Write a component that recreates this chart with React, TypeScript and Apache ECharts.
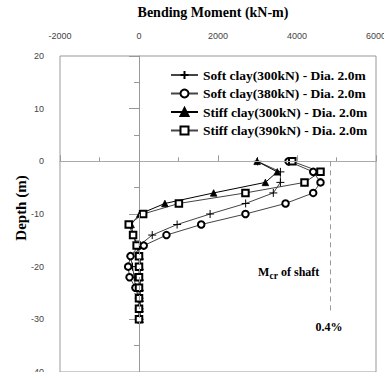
import React, { useEffect, useRef } from "react";
import * as echarts from "echarts";

const depths = [0, -2, -4, -6, -8, -10, -12, -14, -16, -18, -20, -22, -24, -26, -28, -30];
const soft300 = [3000, 3580, 3580, 3400, 2700, 1800, 965, 335, 0, -215, -165, -120, -90, 10, 10, 10];
const soft380 = [3785, 4410, 4595, 4410, 3710, 2695, 1575, 695, 120, -215, -275, -240, -90, 0, 0, 0];
const stiff300 = [2990, 3500, 3200, 1890, 655, 20, -200, -150, -30, 30, 30, 30, 30, 30, 30, 30];
const stiff390 = [3880, 4595, 4190, 2695, 1010, 105, -260, -150, -60, 0, 0, 0, 0, 0, 0, 0];
const seriesNames = [
  "Soft clay(300kN) - Dia. 2.0m",
  "Soft clay(380kN) - Dia. 2.0m",
  "Stiff clay(300kN) - Dia. 2.0m",
  "Stiff clay(390kN) - Dia. 2.0m",
];
const mcrValue = 4830;
const mcrDepthEnd = -29;

const SERIF = "'Liberation Serif', 'Times New Roman', serif";
const SANS = "'Liberation Sans', Arial, sans-serif";

function pairs(xs: number[]) {
  return xs.map((v, i) => [v, depths[i]]);
}

export default function App() {
  const ref = useRef<HTMLDivElement>(null);
  useEffect(() => {
    if (!ref.current) return;
    const chart = echarts.init(ref.current, null, { renderer: "svg" });
    const lineBase = (name: string, data: number[], symbol: string, size: number, lineColor: string) => ({
      name,
      type: "line",
      data: pairs(data),
      symbol,
      symbolSize: size,
      showSymbol: true,
      lineStyle: { color: lineColor, width: 1 },
      itemStyle: { color: "#000", borderColor: "#000", borderWidth: 0.8 },
      z: 3,
    });
    const s0: any = lineBase(seriesNames[0], soft300, "path://M5,0L5,10M0,5L10,5", 8, "#444");
    s0.itemStyle = { color: "#000", borderColor: "#000", borderWidth: 1 };
    s0.markLine = {
      silent: true,
      symbol: "none",
      label: { show: false },
      data: [
        { yAxis: 0, lineStyle: { color: "#aaa", type: "solid", width: 1 } },
        { xAxis: 0, lineStyle: { color: "#999", type: [5, 4], width: 1 } },
        [
          { coord: [mcrValue, 0], lineStyle: { color: "#999", type: [5, 4], width: 1 } },
          { coord: [mcrValue, mcrDepthEnd] },
        ],
      ],
    };
    const s1 = lineBase(seriesNames[1], soft380, "emptyCircle", 6.5, "#444");
    const s2 = lineBase(seriesNames[2], stiff300, "triangle", 6.5, "#000");
    const s3 = lineBase(seriesNames[3], stiff390, "emptyRect", 6.5, "#444");

    const fmt = (v: number) => String(v);

    chart.setOption({
      animation: false,
      grid: {
        left: 60,
        right: 8,
        top: 56,
        bottom: 0,
        containLabel: false,
        outerBoundsMode: "none",
        show: true,
        borderColor: "#999",
        borderWidth: 1,
        backgroundColor: "transparent",
      },
      legend: {
        orient: "vertical",
        left: 170,
        top: 68,
        padding: 0,
        itemWidth: 27,
        itemHeight: 10,
        itemGap: 4.5,
        data: seriesNames,
        textStyle: {
          fontFamily: SERIF,
          fontWeight: "bold",
          fontSize: 13.5,
          color: "#000",
          lineHeight: 14,
        },
      },
      xAxis: {
        type: "value",
        position: "top",
        min: -2000,
        max: 6000,
        interval: 2000,
        axisLine: { show: true, lineStyle: { color: "#999" } },
        axisTick: { show: true, length: 6, lineStyle: { color: "#999" } },
        minorTick: { show: true, splitNumber: 2, length: 4, lineStyle: { color: "#999" } },
        splitLine: { show: false },
        axisLabel: { margin: 16, fontFamily: SANS, fontSize: 9, color: "#444", formatter: fmt },
      },
      yAxis: {
        type: "value",
        min: -40,
        max: 20,
        interval: 10,
        axisLine: { show: true, lineStyle: { color: "#999" } },
        axisTick: { show: true, length: 10, lineStyle: { color: "#999" } },
        minorTick: { show: true, splitNumber: 2, length: 5, lineStyle: { color: "#999" } },
        splitLine: { show: false },
        axisLabel: { margin: 16, fontFamily: SANS, fontSize: 9, color: "#444", formatter: fmt },
      },
      graphic: [
        {
          type: "text",
          x: 213,
          y: 12,
          style: {
            text: "Bending Moment (kN-m)",
            font: `bold 14px ${SERIF}`,
            fill: "#000",
            align: "center",
            verticalAlign: "middle",
            textAlign: "center",
            textVerticalAlign: "middle",
          },
        },
        {
          type: "text",
          x: 21,
          y: 208,
          rotation: Math.PI / 2,
          style: {
            text: "Depth (m)",
            font: `bold 15px ${SERIF}`,
            fill: "#000",
            align: "center",
            verticalAlign: "middle",
            textAlign: "center",
            textVerticalAlign: "middle",
          },
        },
        {
          type: "text",
          x: 258,
          y: 272,
          style: {
            text: "M",
            font: `bold 12px ${SERIF}`,
            fill: "#000",
            align: "left",
            verticalAlign: "middle",
            textAlign: "left",
            textVerticalAlign: "middle",
          },
        },
        {
          type: "text",
          x: 269.5,
          y: 275.5,
          style: {
            text: "cr",
            font: `bold 9.5px ${SERIF}`,
            fill: "#000",
            align: "left",
            verticalAlign: "middle",
            textAlign: "left",
            textVerticalAlign: "middle",
          },
        },
        {
          type: "text",
          x: 278,
          y: 272,
          style: {
            text: " of shaft",
            font: `bold 12px ${SERIF}`,
            fill: "#000",
            align: "left",
            verticalAlign: "middle",
            textAlign: "left",
            textVerticalAlign: "middle",
          },
        },
        {
          type: "text",
          x: 329,
          y: 327,
          style: {
            text: "0.4%",
            font: `bold 12px ${SERIF}`,
            fill: "#000",
            align: "center",
            verticalAlign: "middle",
            textAlign: "center",
            textVerticalAlign: "middle",
          },
        },
      ],
      series: [s0, s1, s2, s3],
    });
    return () => chart.dispose();
  }, []);
  return (
    <div
      ref={ref}
      style={{ position: "fixed", left: 0, top: 0, width: 384, height: 372, background: "#fff" }}
    />
  );
}
